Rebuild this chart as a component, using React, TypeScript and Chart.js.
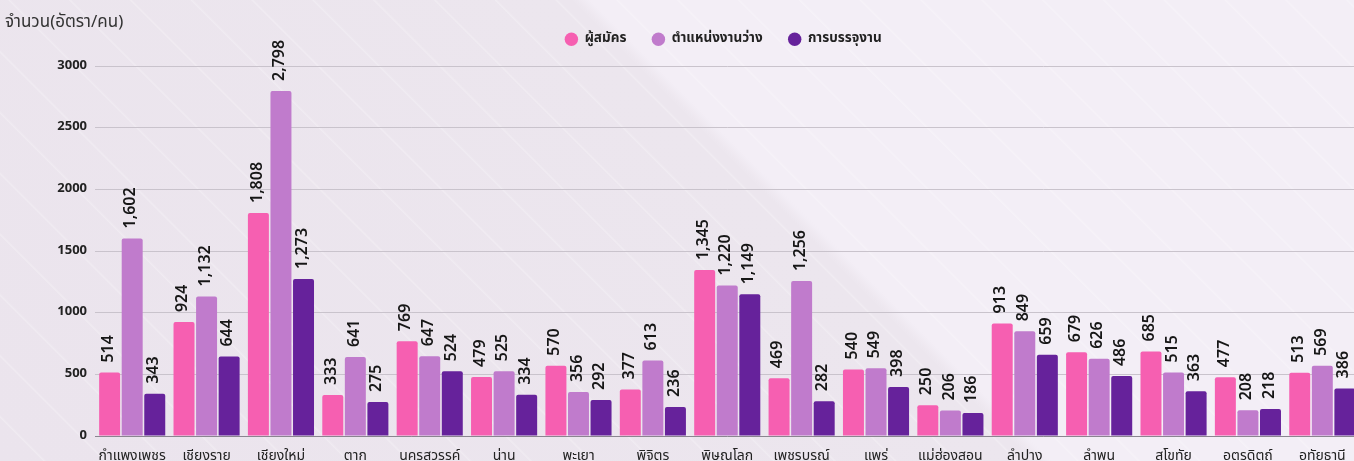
import React, { useEffect, useRef } from "react";
import { Chart, registerables } from "chart.js";

Chart.register(...registerables);

const categories = [
  "กำแพงเพชร", "เชียงราย", "เชียงใหม่", "ตาก", "นครสวรรค์", "น่าน", "พะเยา", "พิจิตร",
  "พิษณุโลก", "เพชรบูรณ์", "แพร่", "แม่ฮ่องสอน", "ลำปาง", "ลำพูน", "สุโขทัย", "อุตรดิตถ์", "อุทัยธานี",
];
const applicants = [514, 924, 1808, 333, 769, 479, 570, 377, 1345, 469, 540, 250, 913, 679, 685, 477, 513];
const vacancies = [1602, 1132, 2798, 641, 647, 525, 356, 613, 1220, 1256, 549, 206, 849, 626, 515, 208, 569];
const placements = [343, 644, 1273, 275, 524, 334, 292, 236, 1149, 282, 398, 186, 659, 486, 363, 218, 386];
const seriesNames = ["ผู้สมัคร", "ตำแหน่งงานว่าง", "การบรรจุงาน"];
const yTitle = "จำนวน(อัตรา/คน)";

const COLORS = ["#f65fb1", "#c07bcc", "#66229b"];
const FONT = "'Noto Sans Thai', 'Noto Sans', 'DejaVu Sans', sans-serif";

const valueLabels = {
  id: "valueLabels",
  afterDatasetsDraw(chart: any) {
    const ctx = chart.ctx;
    ctx.save();
    ctx.fillStyle = "#161616";
    ctx.font = `600 16px ${FONT}`;
    ctx.textAlign = "left";
    ctx.textBaseline = "middle";
    chart.data.datasets.forEach((ds: any, di: number) => {
      const meta = chart.getDatasetMeta(di);
      meta.data.forEach((el: any, i: number) => {
        const v = ds.data[i];
        ctx.save();
        ctx.translate(el.x, el.y - 10);
        ctx.rotate(-Math.PI / 2);
        ctx.fillText(Number(v).toLocaleString("en-US"), 0, 0);
        ctx.restore();
      });
    });
    ctx.restore();
  },
};

const boxShift = {
  id: "boxShift",
  afterLayout(chart: any) {
    const l = chart.legend;
    if (l) {
      l.left += 41;
      l.right += 41;
      l.top -= 10;
      l.bottom -= 10;
    }
    const t = chart.titleBlock;
    if (t) {
      t.top += 15;
      t.bottom += 15;
    }
  },
};

export default function App() {
  const ref = useRef<HTMLCanvasElement | null>(null);
  useEffect(() => {
    document.documentElement.style.overflow = "hidden";
    document.body.style.overflow = "hidden";
    const chart = new Chart(ref.current as HTMLCanvasElement, {
      type: "bar",
      data: {
        labels: categories,
        datasets: [applicants, vacancies, placements].map((d, i) => ({
          label: seriesNames[i],
          data: d,
          backgroundColor: COLORS[i],
          borderRadius: 2,
          categoryPercentage: 0.91,
          barPercentage: 0.93,
        })),
      },
      options: {
        animation: false,
        responsive: true,
        maintainAspectRatio: false,
        layout: { padding: { left: 5, right: 2.5, top: 0, bottom: 0 } },
        plugins: {
          tooltip: { enabled: false },
          title: {
            display: true,
            text: yTitle,
            align: "start",
            color: "#333",
            font: { family: FONT, size: 17, weight: "normal", lineHeight: 1 },
            padding: { top: 0, bottom: 0 },
          },
          legend: {
            display: true,
            position: "top",
            labels: {
              usePointStyle: true,
              pointStyle: "circle",
              boxWidth: 13,
              boxHeight: 9.5,
              padding: 25.5,
              color: "#222",
              font: { family: FONT, size: 13.5, weight: "bold" },
            },
          },
        },
        scales: {
          x: {
            grid: { display: false },
            border: { display: true, color: "#8a8590" },
            ticks: {
              color: "#222",
              padding: 5,
              autoSkip: false,
              maxRotation: 0,
              font: { family: FONT, size: 14 },
            },
            afterFit(s: any) {
              s.height = 39;
            },
          },
          y: {
            min: 0,
            max: 3000,
            ticks: {
              stepSize: 500,
              padding: 8,
              color: "#222",
              font: { family: FONT, size: 13, weight: "bold" },
              callback: (v: any) => String(v),
            },
            grid: { color: "#c9c3cc", drawTicks: false },
            border: { display: false },
            afterFit(s: any) {
              s.width = 90;
            },
          },
        },
      },
      plugins: [valueLabels, boxShift],
    } as any);
    return () => chart.destroy();
  }, []);

  return (
    <div
      style={{
        position: "absolute",
        left: 0,
        top: 0,
        width: 1362,
        height: 475,
        background:
          "repeating-linear-gradient(45deg, rgba(255,255,255,0) 0px, rgba(255,255,255,0) 40px, rgba(255,255,255,0.25) 41px, rgba(255,255,255,0) 43px), linear-gradient(45deg, #ebe4ed 0%, #ece6ee 57%, #f3eef6 58%, #f3eef6 100%)",
      }}
    >
      <canvas ref={ref} />
    </div>
  );
}
